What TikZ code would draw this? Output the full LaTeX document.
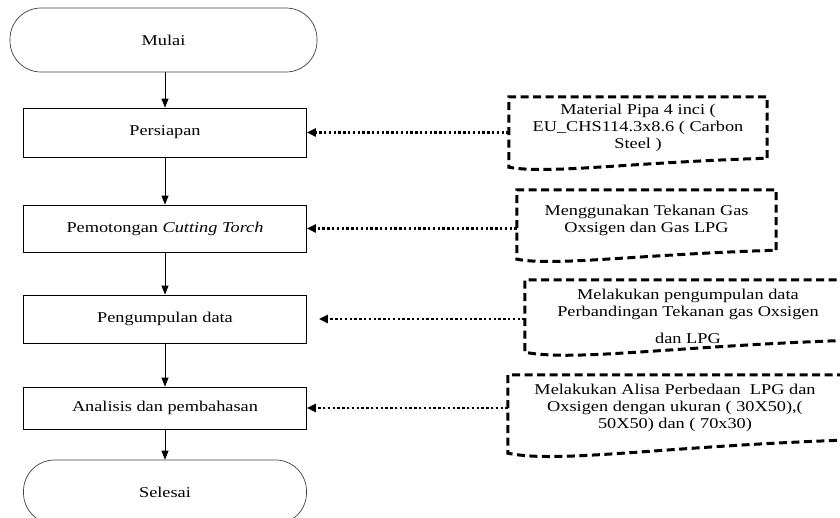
\documentclass[tikz,border=0pt]{standalone}
\usepackage{fontspec}
\setmainfont{Liberation Serif}[FakeStretch=1.22]
\usetikzlibrary{arrows.meta}
\usetikzlibrary{calc}
\usetikzlibrary{positioning}
\tikzset{
	flow/.style={x=1pt,y=-1pt,font=\fontsize{15}{17}\selectfont},
	term/.style={rectangle,rounded corners=31pt,draw=black!75,line width=0.7pt,minimum width=283pt,minimum height=64pt},
	step box/.style={rectangle,draw,line width=0.8pt,minimum width=283pt},
	doc/.style={rectangle,inner sep=0pt,align=center},
	docline/.style={line width=3pt,dash pattern=on 8pt off 4.5pt},
	go/.style={-{Triangle[width=7pt,length=9pt]},line width=0.8pt},
	feed/.style={-{Triangle[width=8pt,length=9pt]},line width=2.6pt,dash pattern=on 2.4pt off 2.4pt}
}
% outline of a document node, #2 = drop of the lower left corner
\newcommand{\docpath}[2]{
	\draw[docline] (#1.south east) -- (#1.north east) -- (#1.north west) -- ($(#1.south west)+(0,#2)$)
		.. controls ($(#1.south east)!0.85!(#1.south west)+(0,#2*1.8)$) and ($(#1.south east)!0.55!(#1.south west)+(0,#2*0.5)$) .. (#1.south east);
}

\begin{document}
\begin{tikzpicture}[flow]
        \clip (0,0) rectangle (840,517);

        % ==================================================
        % 1. MAIN FLOW
        % ==================================================
        \node[term, minimum width=307pt] (mulai) at (163.5,40) {Mulai};
        \node[step box, minimum height=49pt] (siap) at (165,132.5) {Persiapan};
        \node[step box, minimum height=47pt] (potong) at (165,228.5) {Pemotongan \textit{Cutting Torch}};
        \node[step box, minimum height=48pt] (kumpul) at (165,319) {Pengumpulan data};
        \node[step box, minimum height=42pt] (analisis) at (165,408) {Analisis dan pembahasan};
        \node[term] (selesai) at (165,492) {Selesai};

        \draw[go] (mulai.south -| siap.north) -- (siap.north);
        \draw[go] (siap.south) -- (potong.north);
        \draw[go] (potong.south) -- (kumpul.north);
        \draw[go] (kumpul.south) -- (analisis.north);
        \draw[go] (analisis.south) -- (selesai.north);

        % ==================================================
        % 2. INPUT DOCUMENTS
        % ==================================================
        \node[doc, minimum width=258pt, minimum height=61pt] (bahan) at (638,127.5)
            {Material Pipa 4 inci (\\EU\_CHS114.3x8.6 ( Carbon\\Steel )};
        \docpath{bahan}{9}

        \node[doc, minimum width=259pt, minimum height=60pt] (tekanan) at (646.5,220)
            {Menggunakan Tekanan Gas\\Oxsigen dan Gas LPG};
        \docpath{tekanan}{9}

        \node[doc, minimum width=326pt, minimum height=60pt] (data) at (688,310)
            {\raisebox{-11.5pt}[0pt][0pt]{\begin{tabular}{@{}c@{}}Melakukan pengumpulan data\\Perbandingan Tekanan gas Oxsigen\\[10pt]dan LPG\end{tabular}}};
        \docpath{data}{12}

        \node[doc, minimum width=334pt, minimum height=65pt] (ukuran) at (675,407.5)
            {Melakukan Alisa Perbedaan~ LPG dan\\Oxsigen dengan ukuran ( 30X50),(\\50X50) dan ( 70x30)};
        \docpath{ukuran}{13}

        % ==================================================
        % 3. DOTTED FEEDS
        % ==================================================
        \draw[feed] (bahan.west |- siap.east) -- (siap.east);
        \draw[feed] (tekanan.west |- potong.east) -- (potong.east);
        \draw[feed, shorten >=12pt] (data.west |- kumpul.east) -- (kumpul.east);
        \draw[feed] (ukuran.west |- analisis.east) -- (analisis.east);

    \end{tikzpicture}
\end{document}
